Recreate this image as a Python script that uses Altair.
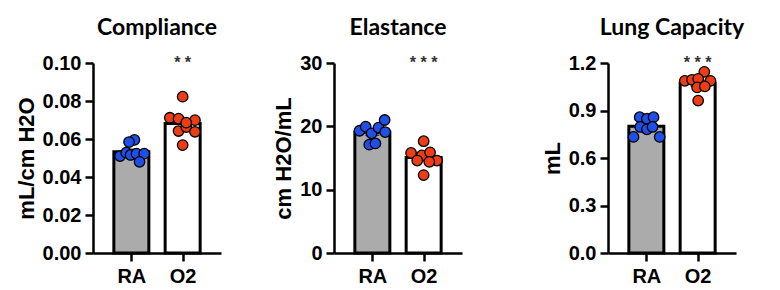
import altair as alt
import pandas as pd

groups = ["RA", "O2"]
bar_fills = ["#ababab", "#ffffff"]
dot_fills = ["#1f4fe6", "#ee3d14"]

titles = ["Compliance", "Elastance", "Lung Capacity"]
y_titles = ["mL/cm H2O", "cm H2O/mL", "mL"]
y_max = [0.10, 30, 1.2]
y_ticks = [[0, 0.02, 0.04, 0.06, 0.08, 0.10], [0, 10, 20, 30], [0, 0.3, 0.6, 0.9, 1.2]]
y_formats = [".2f", "d", ".1f"]
significance = ["* *", "* * *", "* * *"]

compliance_ra = [0.0595, 0.0584, 0.0510, 0.0528, 0.0516, 0.0523, 0.0523, 0.0480]
compliance_o2 = [0.0823, 0.0712, 0.0707, 0.0699, 0.0642, 0.0663, 0.0638, 0.0568, 0.0686]
compliance_ra_jit = [0.06, -0.045, -0.22, -0.10, -0.015, 0.10, 0.25, 0.16]
compliance_o2_jit = [0.0, -0.25, -0.08, 0.24, -0.08, 0.07, 0.24, 0.0, 0.07]

elastance_ra = [19.3, 19.95, 18.9, 19.8, 21.0, 19.1, 17.1, 17.3]
elastance_o2 = [17.65, 15.8, 15.4, 15.9, 14.6, 14.6, 14.4, 12.3]
elastance_ra_jit = [-0.25, -0.13, -0.015, 0.12, 0.24, 0.25, -0.06, 0.06]
elastance_o2_jit = [0.0, -0.245, -0.035, 0.125, 0.26, -0.125, 0.11, 0.0]

capacity_ra = [0.858, 0.848, 0.858, 0.796, 0.781, 0.796, 0.733, 0.733]
capacity_o2 = [1.144, 1.0875, 1.094, 1.0875, 1.100, 1.046, 1.052, 0.9625]
capacity_ra_jit = [-0.13, 0.01, 0.14, -0.12, 0.01, 0.12, -0.25, 0.26]
capacity_o2_jit = [0.13, -0.25, -0.11, 0.25, 0.01, -0.01, 0.14, 0.01]

series = [
    (compliance_ra, compliance_o2, compliance_ra_jit, compliance_o2_jit),
    (elastance_ra, elastance_o2, elastance_ra_jit, elastance_o2_jit),
    (capacity_ra, capacity_o2, capacity_ra_jit, capacity_o2_jit),
]


def panel(i):
    ra, o2, ra_j, o2_j = series[i]
    rows = []
    for gi, (g, vals, jit) in enumerate([("RA", ra, ra_j), ("O2", o2, o2_j)]):
        for v, j in zip(vals, jit):
            rows.append({"group": g, "grp": g, "pos": gi, "xj": gi + j, "value": v})
    df = pd.DataFrame(rows)

    xscale = alt.Scale(domain=[-0.65, 1.65], nice=False, zero=False)
    xaxis = alt.Axis(values=[0, 1], labelExpr="datum.value == 0 ? 'RA' : 'O2'",
                     title=None, labelPadding=5, labelFlush=False, labelOverlap=False,
                     tickCount=10)
    yscale = alt.Scale(domain=[0, y_max[i]], nice=False, zero=True)
    yaxis = alt.Axis(values=y_ticks[i], format=y_formats[i], title=y_titles[i],
                     labelOverlap=False, labelFlush=False, tickCount=len(y_ticks[i]) + 2)

    base = alt.Chart(df)
    bars = base.mark_bar(size=35, stroke="black", strokeWidth=3).encode(
        x=alt.X("pos:Q", scale=xscale, axis=xaxis),
        y=alt.Y("mean(value):Q", scale=yscale, axis=yaxis),
        fill=alt.Fill("group:N", scale=alt.Scale(domain=groups, range=bar_fills), legend=None),
    )
    err = base.transform_aggregate(
        m="mean(value)", se="stderr(value)", groupby=["pos"]
    ).transform_calculate(lo="datum.m - datum.se", hi="datum.m + datum.se")
    err_rule = err.mark_rule(color="black", strokeWidth=1.5).encode(
        x="pos:Q", y="lo:Q", y2="hi:Q"
    )
    err_hi = err.mark_tick(orient="horizontal", color="black", thickness=1.5, size=14).encode(
        x="pos:Q", y="hi:Q"
    )
    err_lo = err.mark_tick(orient="horizontal", color="black", thickness=1.5, size=14).encode(
        x="pos:Q", y="lo:Q"
    )
    dots = base.mark_circle(size=110, stroke="black", strokeWidth=1.3, opacity=1).encode(
        x="xj:Q",
        y="value:Q",
        fill=alt.Fill("grp:N", scale=alt.Scale(domain=groups, range=dot_fills), legend=None),
    )
    sig_df = pd.DataFrame({"pos": [1], "y": [y_max[i]], "t": [significance[i]]})
    sig = alt.Chart(sig_df).mark_text(
        font="Liberation Sans", fontSize=16, fontWeight="bold", color="#333333",
        baseline="middle", dy=0
    ).encode(x="pos:Q", y="y:Q", text="t:N")

    return alt.layer(bars, err_rule, err_hi, err_lo, dots, sig).resolve_scale(
        fill="independent"
    ).properties(
        width=128, height=190,
        title=alt.TitleParams(text=titles[i], font="Lato", fontSize=23, fontWeight="bold",
                              color="black", anchor="middle", frame="group", offset=13),
    )


chart = alt.hconcat(
    alt.hconcat(panel(0), panel(1), spacing=51),
    panel(2),
    spacing=79,
).properties(
    padding={"left": 7, "top": 9, "right": 5, "bottom": 0}
).configure_axis(
    domainColor="black", domainWidth=2.5, tickColor="black", tickWidth=2.5, tickSize=8,
    labelFont="Liberation Sans", labelFontSize=20, labelFontWeight="bold", labelColor="black",
    titleFont="Liberation Sans", titleFontSize=22, titleFontWeight="bold", titleColor="black",
    grid=False, labelPadding=4, titlePadding=4,
).configure_view(stroke=None)

chart.save("out.html", embed_options={"renderer": "svg", "actions": False})
